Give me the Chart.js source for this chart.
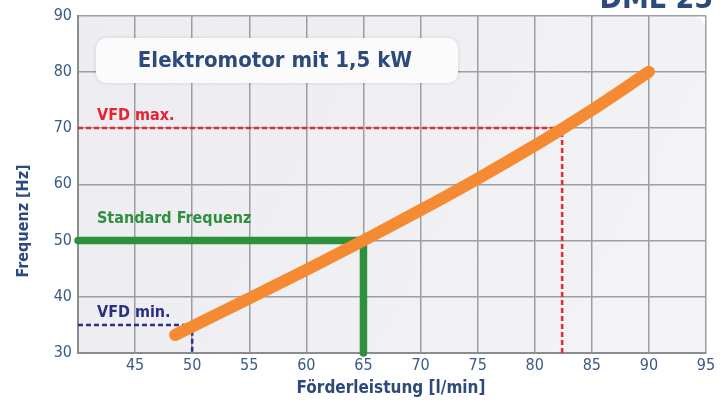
<!DOCTYPE html>
<html>
<head>
<meta charset="utf-8">
<script src="https://cdn.jsdelivr.net/npm/chart.js@4.4.0/dist/chart.umd.min.js"></script>
<style>
  html, body { margin: 0; padding: 0; background: #fff; }
  #wrap { width: 725px; height: 403px; position: relative; }
</style>
</head>
<body>
<div id="wrap"><canvas id="chart"></canvas></div>
<script>
// pump curve
const flowRate = [48.5, 50, 55, 60, 65, 70, 75, 80, 82.5, 85, 90];
const frequency = [33.2, 34.7, 39.7, 44.8, 50, 55.4, 61, 66.9, 70, 73.2, 80];

// reference lines (x, y pairs)
const stdFreqLine = [[40, 50], [65, 50], [65, 30]];
const vfdMaxLine = [[40, 70], [82.4, 70], [82.4, 30]];
const vfdMinLine = [[40, 35], [50, 35], [50, 30]];

const xTicks = [45, 50, 55, 60, 65, 70, 75, 80, 85, 90, 95];
const yTicks = [30, 40, 50, 60, 70, 80, 90];

const navy = '#2d4a7c';
const FONT = '"DejaVu Sans Condensed", "Liberation Sans Narrow", "DejaVu Sans", sans-serif';

const toPoints = arr => arr.map(p => ({ x: p[0], y: p[1] }));

// background, labels and title box
const decorations = {
  id: 'decorations',
  beforeDraw(chart) {
    const { ctx, chartArea: a } = chart;
    ctx.save();
    const g = ctx.createLinearGradient(a.left, a.top, a.right, a.bottom);
    g.addColorStop(0, '#ececf1');
    g.addColorStop(1, '#f4f4f6');
    ctx.fillStyle = g;
    ctx.beginPath();
    ctx.moveTo(a.left, a.top);
    ctx.lineTo(a.right - 18, a.top);
    ctx.quadraticCurveTo(a.right, a.top, a.right, a.top + 18);
    ctx.lineTo(a.right, a.bottom);
    ctx.lineTo(a.left, a.bottom);
    ctx.closePath();
    ctx.fill();
    ctx.restore();
  },
  afterDraw(chart) {
    const { ctx } = chart;
    const ys = chart.scales.y;
    ctx.save();

    // title box
    ctx.shadowColor = 'rgba(0,0,0,0.12)';
    ctx.shadowBlur = 4;
    ctx.fillStyle = '#fbfbfc';
    ctx.beginPath();
    ctx.roundRect(96, 38, 362, 45, 10);
    ctx.fill();
    ctx.shadowColor = 'transparent';
    ctx.fillStyle = navy;
    ctx.font = 'bold 22px ' + FONT;
    ctx.textAlign = 'center';
    ctx.textBaseline = 'middle';
    ctx.fillText('Elektromotor mit 1,5 kW', 275, 61);

    // model name, cut at the top
    ctx.font = 'bold 30px ' + FONT;
    ctx.textAlign = 'right';
    ctx.textBaseline = 'alphabetic';
    ctx.fillText('DML 25', 713, 8);

    // line labels
    ctx.textAlign = 'left';
    ctx.font = 'bold 16px ' + FONT;
    ctx.fillStyle = '#e8222e';
    ctx.fillText('VFD max.', 97, ys.getPixelForValue(70) - 8);
    ctx.fillStyle = '#2e8f3d';
    ctx.fillText('Standard Frequenz', 97, ys.getPixelForValue(50) - 18);
    ctx.fillStyle = '#2b2d86';
    ctx.fillText('VFD min.', 97, ys.getPixelForValue(35) - 8);

    // axis titles
    ctx.fillStyle = navy;
    ctx.font = 'bold 17px ' + FONT;
    ctx.textAlign = 'center';
    ctx.textBaseline = 'middle';
    ctx.fillText('Förderleistung [l/min]', 391, 389);
    ctx.font = 'bold 16px ' + FONT;
    ctx.translate(24, 221);
    ctx.rotate(-Math.PI / 2);
    ctx.fillText('Frequenz [Hz]', 0, 0);
    ctx.restore();
  }
};

new Chart(document.getElementById('chart'), {
  type: 'line',
  data: {
    datasets: [
      {
        data: flowRate.map((x, i) => ({ x, y: frequency[i] })),
        borderColor: '#f58a33',
        borderWidth: 12,
        borderCapStyle: 'round',
        borderJoinStyle: 'round',
        cubicInterpolationMode: 'monotone',
        pointRadius: 0,
        clip: false
      },
      {
        data: toPoints(vfdMaxLine),
        borderColor: '#ee2431',
        borderWidth: 2.5,
        borderDash: [5, 3],
        pointRadius: 0,
        tension: 0,
        clip: false
      },
      {
        data: toPoints(vfdMinLine),
        borderColor: '#2b2d86',
        borderWidth: 2.5,
        borderDash: [5, 3],
        pointRadius: 0,
        tension: 0,
        clip: false
      },
      {
        data: toPoints(stdFreqLine),
        borderColor: '#2e8f3d',
        borderWidth: 7.5,
        borderCapStyle: 'round',
        borderJoinStyle: 'miter',
        pointRadius: 0,
        tension: 0,
        clip: false
      }
    ]
  },
  options: {
    responsive: true,
    maintainAspectRatio: false,
    animation: false,
    layout: { padding: { top: 12.5, right: 19, left: 0, bottom: 0 } },
    plugins: { legend: { display: false }, tooltip: { enabled: false } },
    scales: {
      x: {
        type: 'linear',
        min: 40,
        max: 95,
        afterFit: s => { s.height = 50; },
        afterBuildTicks: s => { s.ticks = [40].concat(xTicks).map(v => ({ value: v })); },
        ticks: {
          color: '#3b5a85',
          font: { family: FONT, size: 16 },
          padding: 3,
          maxRotation: 0,
          callback: v => xTicks.includes(v) ? v : ''
        },
        grid: { color: '#9c9ea1', lineWidth: 1.5, drawTicks: false },
        border: { color: '#8a8c8f', width: 2 }
      },
      y: {
        min: 30,
        max: 90,
        afterFit: s => { s.width = 78; },
        afterBuildTicks: s => { s.ticks = yTicks.map(v => ({ value: v })); },
        ticks: {
          color: '#3b5a85',
          font: { family: FONT, size: 16 },
          padding: 6
        },
        grid: { color: '#9c9ea1', lineWidth: 1.5, drawTicks: false },
        border: { color: '#8a8c8f', width: 2 }
      }
    }
  },
  plugins: [decorations]
});
</script>
</body>
</html>
